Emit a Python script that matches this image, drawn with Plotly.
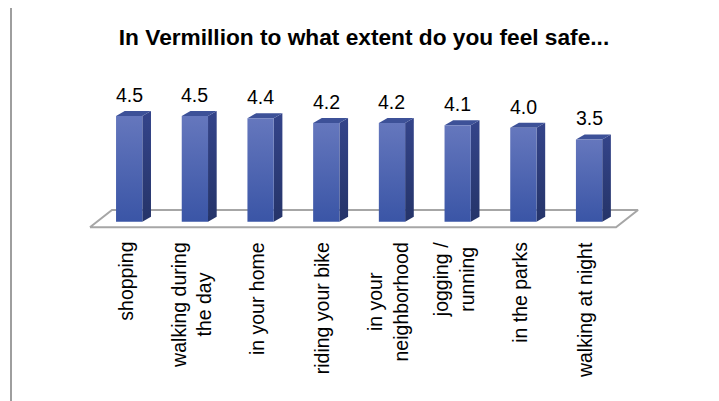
import plotly.graph_objects as go

# ---- data ----
categories = ["shopping", "walking during<br>the day", "in your home", "riding your bike",
              "in your<br>neighborhood", "jogging /<br>running", "in the parks", "walking at night"]
values = [4.5, 4.5, 4.4, 4.2, 4.2, 4.1, 4.0, 3.5]
title_text = "In Vermillion to what extent do you feel safe..."

# ---- geometry / style constants ----
W = 0.40      # bar front width (category units)
DX = 0.132    # 3D depth in x
DY = 0.213    # 3D depth in y (value units)
FRONT = "#4b62af"
SIDE = "#2b3a76"
TOP = "#3d5198"
FLOOR_LINE = "#a6a6a6"

n = len(categories)
xs = list(range(n))

OFF = 8  # browser body margin
FW, FH = 719 - OFF, 401 - OFF
L, R, T, B = 60 - OFF, 39, 70 - OFF, 166
x_range = [-1.053, 8.384]
y_range = [-0.566, 6.455]

fig = go.Figure()

# floor (parallelogram under the bars)
fx0, fx1 = -0.597, (n - 1) + 0.41
fy0, fy1 = -0.238, 0.498
sx = 0.335
fig.add_trace(go.Scatter(
    x=[fx0, fx1, fx1 + sx, fx0 + sx, fx0],
    y=[fy0, fy0, fy1, fy1, fy0],
    mode="lines", fill="toself", fillcolor="white",
    line=dict(color=FLOOR_LINE, width=2), hoverinfo="skip", showlegend=False))

# side faces, top faces and front faces
for i, v in zip(xs, values):
    xr = i + W / 2
    xl = i - W / 2
    fig.add_trace(go.Scatter(
        x=[xr, xr + DX, xr + DX, xr, xr],
        y=[0, DY, v + DY, v, 0],
        mode="lines", fill="toself",
        fillgradient=dict(type="vertical", colorscale=[[0, "#253469"], [1, "#34448a"]]),
        line=dict(width=0, color=SIDE), hoverinfo="skip", showlegend=False))
    fig.add_trace(go.Scatter(
        x=[xl, xr, xr + DX, xl + DX, xl],
        y=[v, v, v + DY, v + DY, v],
        mode="lines", fill="toself", fillcolor=TOP,
        line=dict(width=0, color=TOP), hoverinfo="skip", showlegend=False))
    fig.add_trace(go.Scatter(
        x=[xl, xr, xr, xl, xl],
        y=[0, 0, v, v, 0],
        mode="lines", fill="toself",
        fillgradient=dict(type="vertical", colorscale=[[0, "#3a55a6"], [1, "#6577bd"]]),
        line=dict(width=0, color=FRONT), hoverinfo="skip", showlegend=False))

# value labels
for i, v in zip(xs, values):
    fig.add_annotation(x=i, y=v, xref="x", yref="y", text=f"{v:.1f}",
                       showarrow=False, yanchor="middle", yshift=21,
                       font=dict(family="Liberation Sans, Arial", size=19.5, color="#000000"))

pw = FW - L - R
ph = FH - T - B
def px2paper_x(p):
    return (p - OFF - L) / pw
def px2paper_y(p):
    return (FH - B - (p - OFF)) / ph

# category labels (rotated)
for i, c in zip(xs, categories):
    fig.add_annotation(x=i, y=px2paper_y(240), xref="x", yref="paper", text=c, textangle=-90,
                       showarrow=False, xanchor="center", yanchor="top", align="center",
                       xshift=-4,
                       font=dict(family="Liberation Sans, Arial", size=19.5, color="#000000"))

# chart area border (top and left)
fig.add_shape(type="path", xref="paper", yref="paper",
              path=f"M {px2paper_x(11)} {px2paper_y(430)} L {px2paper_x(11)} {px2paper_y(5)} L {px2paper_x(740)} {px2paper_y(5)}",
              line=dict(color="#9e9e9e", width=2))

fig.update_layout(
    width=FW, height=FH,
    margin=dict(l=L, r=R, t=T, b=B),
    paper_bgcolor="white", plot_bgcolor="white",
    title=dict(text=title_text, x=(364 - OFF) / FW, xanchor="center", xref="container",
               y=1 - (37 - OFF) / FH, yanchor="middle", yref="container",
               font=dict(family="Liberation Sans, Arial", size=22.7,
                         color="#000000", weight="bold")),
    xaxis=dict(range=x_range, visible=False, fixedrange=True),
    yaxis=dict(range=y_range, visible=False, fixedrange=True),
    showlegend=False,
)

fig.write_html("out.html")
